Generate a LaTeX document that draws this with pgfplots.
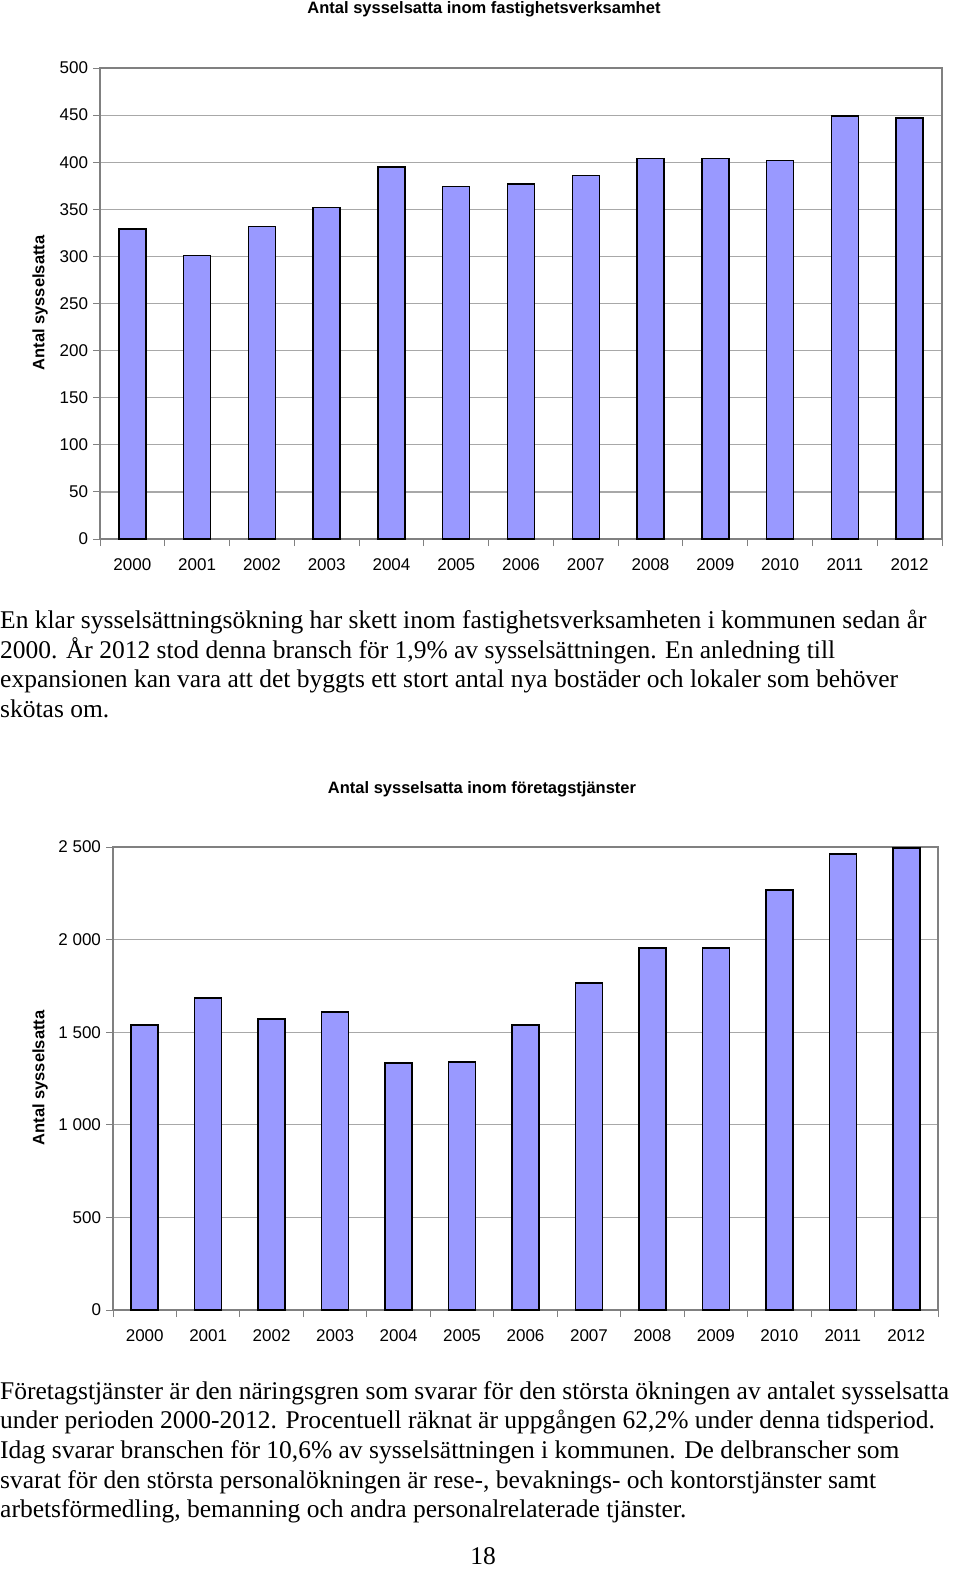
\documentclass[border=0pt]{standalone}
\usepackage{fontspec}
\setmainfont{Liberation Serif}
\setsansfont{Liberation Sans}
\usepackage{pgfplots}
\pgfplotsset{compat=1.18}

\definecolor{barblue}{HTML}{9999FF}
\definecolor{gridgray}{HTML}{A8A8A8}

\pgfplotsset{
  kommun/.style={
    overlay,
    scale only axis, anchor=south west,
    ybar, bar width=27pt,
    xmin=-0.5, xmax=12.5,
    xtick={0,...,12},
    xticklabels={2000,2001,2002,2003,2004,2005,2006,2007,2008,2009,2010,2011,2012},
    minor xtick={-0.5,0.5,...,12.5},
    tick align=outside, xtick pos=left, ytick pos=left,
    major x tick style={draw=none},
    major tick length=7pt, minor tick length=7pt,
    every tick/.style={gray, line width=1pt},
    ymajorgrids, grid style={gridgray, line width=1.2pt},
    axis line style={gray, line width=1.2pt},
    tick label style={font=\fontsize{17}{20}\sffamily},
    x tick label style={yshift=-9pt},
    y tick label style={xshift=-1.5pt},
    /pgf/number format/assume math mode=true,
    /pgf/number format/1000 sep={\ },
  },
  stapel/.style={fill=barblue, draw=black, line width=1.5pt},
}

\newcommand{\brod}{\fontsize{25.5}{30}\selectfont}
\newcommand{\rubrik}{\fontsize{16.5}{20}\sffamily\bfseries}

\begin{document}
\begin{tikzpicture}
\path[use as bounding box] (0pt,0pt) rectangle (960pt,-1578pt);

% Diagram 1: fastighetsverksamhet
\node[anchor=base, font=\rubrik] at (484pt,-14pt) {Antal sysselsatta inom fastighetsverksamhet};
\node[rotate=90, anchor=center, font=\rubrik] at (40pt,-303pt) {Antal sysselsatta};
\begin{axis}[kommun, at={(100pt,-539pt)}, width=842pt, height=471pt,
    ymin=0, ymax=500, ytick={0,50,...,500}]
  \addplot[stapel] coordinates {
    (0,329) (1,301) (2,332) (3,352) (4,395) (5,374) (6,377)
    (7,386) (8,404) (9,404) (10,402) (11,449) (12,447)
  };
\end{axis}

\node[anchor=base west, inner sep=0pt, font=\brod] at (0pt,-628pt)
  {En klar sysselsättningsökning har skett inom fastighetsverksamheten i kommunen sedan år};
\node[anchor=base west, inner sep=0pt, font=\brod] at (0pt,-658pt)
  {2000. År 2012 stod denna bransch för 1,9\% av sysselsättningen. En anledning till};
\node[anchor=base west, inner sep=0pt, font=\brod] at (0pt,-687pt)
  {expansionen kan vara att det byggts ett stort antal nya bostäder och lokaler som behöver};
\node[anchor=base west, inner sep=0pt, font=\brod] at (0pt,-717pt)
  {skötas om.};

% Diagram 2: företagstjänster
\node[anchor=base, font=\rubrik] at (482pt,-793pt) {Antal sysselsatta inom företagstjänster};
\node[rotate=90, anchor=center, font=\rubrik] at (40pt,-1078pt) {Antal sysselsatta};
\begin{axis}[kommun, at={(113pt,-1310pt)}, width=825pt, height=463pt,
    ymin=0, ymax=2500, ytick={0,500,...,2500}]
  \addplot[stapel] coordinates {
    (0,1539) (1,1685) (2,1571) (3,1609) (4,1334) (5,1339) (6,1539)
    (7,1766) (8,1955) (9,1955) (10,2268) (11,2462) (12,2495)
  };
\end{axis}

\node[anchor=base west, inner sep=0pt, font=\brod] at (0pt,-1399pt)
  {Företagstjänster är den näringsgren som svarar för den största ökningen av antalet sysselsatta};
\node[anchor=base west, inner sep=0pt, font=\brod] at (0pt,-1428pt)
  {under perioden 2000-2012. Procentuell räknat är uppgången 62,2\% under denna tidsperiod.};
\node[anchor=base west, inner sep=0pt, font=\brod] at (0pt,-1458pt)
  {Idag svarar branschen för 10,6\% av sysselsättningen i kommunen. De delbranscher som};
\node[anchor=base west, inner sep=0pt, font=\brod] at (0pt,-1488pt)
  {svarat för den största personalökningen är rese-, bevaknings- och kontorstjänster samt};
\node[anchor=base west, inner sep=0pt, font=\brod] at (0pt,-1517pt)
  {arbetsförmedling, bemanning och andra personalrelaterade tjänster.};

\node[anchor=base, font=\brod] at (483pt,-1564pt) {18};
\end{tikzpicture}
\end{document}
